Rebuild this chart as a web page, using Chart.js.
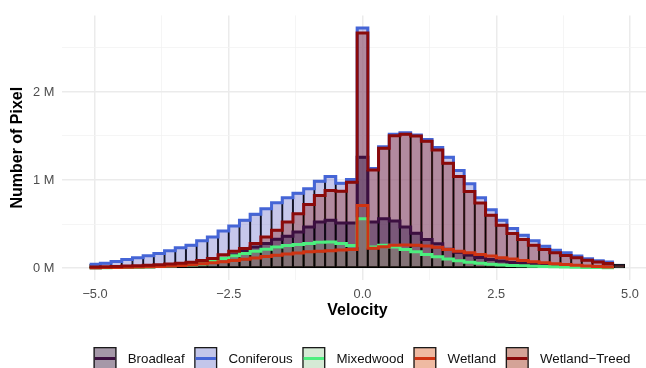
<!DOCTYPE html>
<html>
<head>
<meta charset="utf-8">
<script src="https://cdn.jsdelivr.net/npm/chart.js@4.4.1/dist/chart.umd.min.js"></script>
<style>
  html, body { margin: 0; padding: 0; background: #ffffff; }
  canvas { display: block; }
</style>
</head>
<body>
<canvas id="chart" width="646" height="368"></canvas>
<script>
// Histogram bin centres (velocity), bin width 0.2
const bins = [
  -5.0, -4.8, -4.6, -4.4, -4.2, -4.0, -3.8, -3.6, -3.4, -3.2,
  -3.0, -2.8, -2.6, -2.4, -2.2, -2.0, -1.8, -1.6, -1.4, -1.2,
  -1.0, -0.8, -0.6, -0.4, -0.2,  0.0,  0.2,  0.4,  0.6,  0.8,
   1.0,  1.2,  1.4,  1.6,  1.8,  2.0,  2.2,  2.4,  2.6,  2.8,
   3.0,  3.2,  3.4,  3.6,  3.8,  4.0,  4.2,  4.4,  4.6,  4.8
];
const binWidth = 0.2;

// Pixel counts per bin, in millions
const broadleaf = [
  0.004, 0.005, 0.007, 0.009, 0.011, 0.014, 0.018, 0.022, 0.028, 0.035,
  0.060, 0.080, 0.110, 0.150, 0.200, 0.240, 0.280, 0.328, 0.362, 0.410,
  0.467, 0.523, 0.542, 0.512, 0.512, 1.260, 0.523, 0.560, 0.535, 0.467,
  0.396, 0.324, 0.275, 0.215, 0.180, 0.147, 0.121, 0.098, 0.079, 0.064,
  0.053, 0.045, 0.038, 0.032, 0.027, 0.022, 0.018, 0.015, 0.012, 0.010
];
const coniferous = [
  0.042, 0.056, 0.075, 0.098, 0.117, 0.139, 0.166, 0.196, 0.230, 0.260,
  0.310, 0.354, 0.420, 0.478, 0.542, 0.610, 0.674, 0.742, 0.800, 0.850,
  0.900, 0.987, 1.040, 0.964, 1.006, 2.727, 1.130, 1.378, 1.520, 1.537,
  1.510, 1.461, 1.370, 1.258, 1.107, 0.957, 0.799, 0.663, 0.542, 0.448,
  0.373, 0.309, 0.249, 0.203, 0.173, 0.136, 0.105, 0.082, 0.068, 0.045
];
const mixedwood = [
  0.003, 0.004, 0.006, 0.008, 0.010, 0.013, 0.017, 0.022, 0.028, 0.036,
  0.047, 0.075, 0.110, 0.140, 0.165, 0.190, 0.215, 0.238, 0.255, 0.268,
  0.280, 0.294, 0.296, 0.279, 0.255, 0.560, 0.240, 0.260, 0.240, 0.210,
  0.184, 0.155, 0.128, 0.102, 0.082, 0.066, 0.054, 0.044, 0.036, 0.030,
  0.025, 0.020, 0.017, 0.014, 0.011, 0.009, 0.007, 0.005, 0.004, 0.003
];
const wetland = [
  0.004, 0.005, 0.007, 0.009, 0.011, 0.014, 0.018, 0.023, 0.030, 0.038,
  0.048, 0.060, 0.073, 0.086, 0.100, 0.115, 0.130, 0.145, 0.160, 0.172,
  0.184, 0.192, 0.198, 0.205, 0.212, 0.710, 0.225, 0.242, 0.258, 0.263,
  0.260, 0.250, 0.236, 0.210, 0.192, 0.173, 0.155, 0.136, 0.117, 0.102,
  0.087, 0.072, 0.060, 0.049, 0.040, 0.031, 0.024, 0.018, 0.013, 0.010
];
const wetlandTreed = [
  0.012, 0.015, 0.018, 0.022, 0.027, 0.032, 0.038, 0.046, 0.055, 0.066,
  0.085, 0.110, 0.150, 0.190, 0.222, 0.279, 0.354, 0.430, 0.523, 0.618,
  0.723, 0.825, 0.880, 0.873, 0.975, 2.670, 1.115, 1.360, 1.503, 1.520,
  1.500, 1.440, 1.340, 1.190, 1.040, 0.870, 0.738, 0.599, 0.486, 0.392,
  0.324, 0.260, 0.211, 0.173, 0.143, 0.117, 0.090, 0.068, 0.053, 0.035
];

const seriesNames = ['Broadleaf', 'Coniferous', 'Mixedwood', 'Wetland', 'Wetland\u2212Treed'];
const seriesValues = [broadleaf, coniferous, mixedwood, wetland, wetlandTreed];

// Axis ticks
const xTickValues = [-5, -2.5, 0, 2.5, 5];
const xTickLabels = ['\u22125.0', '\u22122.5', '0.0', '2.5', '5.0'];
const xMinorValues = [-3.75, -1.25, 1.25, 3.75];
const yTickValues = [0, 1, 2];
const yTickLabels = ['0 M', '1 M', '2 M'];
const yMinorValues = [0.5, 1.5, 2.5];

// Styling
const lineColors = ['#3c0f40', '#4565d6', '#4cee7e', '#cf3312', '#8b0a0a'];
const barFills = [
  'rgba(66, 38, 84, 0.5)',
  'rgba(112, 116, 206, 0.4)',
  'rgba(128, 168, 124, 0.35)',
  'rgba(160, 110, 105, 0.2)',
  'rgba(160, 78, 84, 0.5)'
];
const keyFills = ['#a598a8', '#c3c6ea', '#d5ead5', '#efbaa2', '#d4a397'];
// drawing depth of the bar layers (higher = further back)
const barDepth = [12, 14, 11, 10, 13];
const lineDepth = [4, 3, 2, 1, 0];

const FONT = '"Liberation Sans", Arial, Helvetica, sans-serif';
Chart.defaults.font.family = FONT;

const datasets = [];
seriesNames.forEach((name, s) => {
  const vals = seriesValues[s];
  datasets.push({
    type: 'bar',
    label: name,
    data: bins.map((x, i) => ({ x: x, y: vals[i] })),
    backgroundColor: barFills[s],
    borderColor: '#000000',
    borderWidth: 0.7,
    borderSkipped: false,
    grouped: false,
    categoryPercentage: 1.0,
    barPercentage: 1.0,
    order: barDepth[s]
  });
});
seriesNames.forEach((name, s) => {
  const vals = seriesValues[s];
  const pts = [];
  for (let i = 0; i < bins.length - 1; i++) {
    pts.push({ x: bins[i] - binWidth / 2, y: vals[i] });
  }
  pts.push({ x: bins[bins.length - 1] - binWidth / 2, y: vals[bins.length - 2] });
  datasets.push({
    type: 'line',
    label: name + ' outline',
    data: pts,
    stepped: 'before',
    borderColor: lineColors[s],
    borderWidth: 3,
    borderJoinStyle: 'miter',
    borderCapStyle: 'butt',
    pointRadius: 0,
    fill: false,
    order: lineDepth[s]
  });
});

const isIn = (arr, v) => arr.some(a => Math.abs(a - v) < 1e-9);

// Axis title on x and the key below the panel
const annotations = {
  id: 'annotations',
  afterDraw(chart) {
    const ctx = chart.ctx;
    ctx.save();
    // x title
    ctx.font = 'bold 16px ' + FONT;
    ctx.fillStyle = '#000000';
    ctx.textAlign = 'center';
    ctx.textBaseline = 'middle';
    ctx.fillText('Velocity', 357.5, 311);

    // key
    const keySize = 23, textGap = 11.2, itemGap = 9.6, cy = 358.5, cx = 362;
    ctx.font = '13.3px ' + FONT;
    const widths = seriesNames.map(n => ctx.measureText(n).width);
    let total = 0;
    widths.forEach(w => { total += keySize + textGap + w; });
    total += itemGap * (seriesNames.length - 1);
    let x = cx - total / 2;
    seriesNames.forEach((name, i) => {
      const top = cy - keySize / 2;
      ctx.fillStyle = keyFills[i];
      ctx.fillRect(x, top, keySize, keySize);
      ctx.strokeStyle = '#1a1a1a';
      ctx.lineWidth = 1.3;
      ctx.strokeRect(x + 0.65, top + 0.65, keySize - 1.3, keySize - 1.3);
      ctx.strokeStyle = lineColors[i];
      ctx.lineWidth = 3;
      ctx.beginPath();
      ctx.moveTo(x + 1.3, cy);
      ctx.lineTo(x + keySize - 1.3, cy);
      ctx.stroke();
      ctx.fillStyle = '#111111';
      ctx.textAlign = 'left';
      ctx.textBaseline = 'middle';
      ctx.fillText(name, x + keySize + textGap, cy + 0.5);
      x += keySize + textGap + widths[i] + itemGap;
    });
    ctx.restore();
  }
};

new Chart(document.getElementById('chart'), {
  type: 'bar',
  data: { datasets: datasets },
  plugins: [annotations],
  options: {
    responsive: false,
    animation: false,
    events: [],
    devicePixelRatio: 1,
    layout: { padding: { top: 14, left: 0, right: 0, bottom: 0 } },
    plugins: {
      legend: { display: false },
      tooltip: { enabled: false },
      title: { display: false }
    },
    scales: {
      x: {
        type: 'linear',
        position: 'bottom',
        min: -5.617,
        max: 5.299,
        offset: false,
        border: { display: false },
        grid: {
          offset: false,
          drawTicks: false,
          color: c => isIn(xTickValues, c.tick.value) ? '#ebebeb' : '#f2f2f2',
          lineWidth: c => isIn(xTickValues, c.tick.value) ? 1.5 : 0.8
        },
        afterBuildTicks: s => {
          s.ticks = xTickValues.concat(xMinorValues).sort((a, b) => a - b).map(v => ({ value: v }));
        },
        afterFit: s => { s.height = 88; },
        ticks: {
          autoSkip: false,
          maxRotation: 0,
          padding: 6.8,
          color: '#4d4d4d',
          font: { size: 12.8 },
          callback: v => {
            const i = xTickValues.findIndex(t => Math.abs(t - v) < 1e-9);
            return i >= 0 ? xTickLabels[i] : '';
          }
        }
      },
      y: {
        type: 'linear',
        min: -0.1356,
        max: 2.870,
        border: { display: false },
        grid: {
          drawTicks: false,
          color: c => isIn(yTickValues, c.tick.value) ? '#ebebeb' : '#f2f2f2',
          lineWidth: c => isIn(yTickValues, c.tick.value) ? 1.5 : 0.8
        },
        afterBuildTicks: s => {
          s.ticks = yTickValues.concat(yMinorValues).sort((a, b) => a - b).map(v => ({ value: v }));
        },
        afterFit: s => { s.width = 62; },
        ticks: {
          padding: 7.7,
          color: '#4d4d4d',
          font: { size: 12.8 },
          callback: v => {
            const i = yTickValues.findIndex(t => Math.abs(t - v) < 1e-9);
            return i >= 0 ? yTickLabels[i] : '';
          }
        },
        title: {
          display: true,
          text: 'Number of Pixel',
          color: '#000000',
          font: { size: 16, weight: 'bold' },
          padding: { top: 8.4, bottom: 0 }
        }
      }
    }
  }
});
</script>
</body>
</html>
